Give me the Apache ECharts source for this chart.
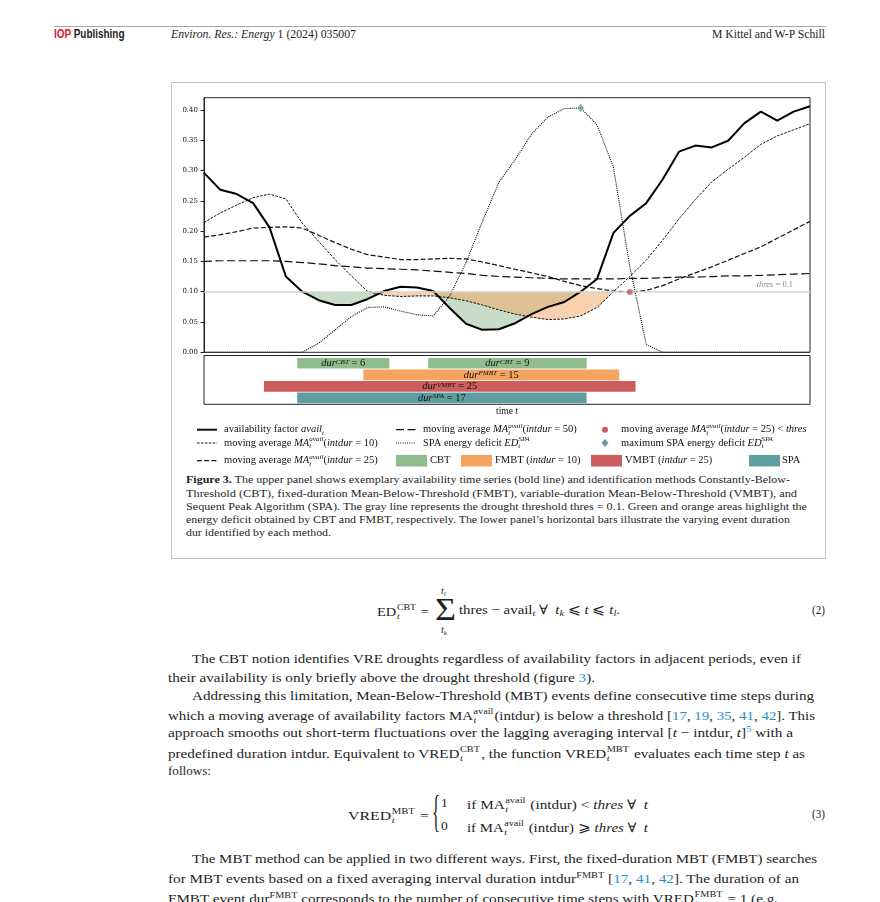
<!DOCTYPE html>
<html><head><meta charset="utf-8">
<script src="https://cdn.jsdelivr.net/npm/echarts@6/dist/echarts.min.js"></script>
<style>
html,body{margin:0;padding:0;background:#fff;}
body{width:880px;height:902px;position:relative;overflow:hidden;font-family:'Liberation Serif','DejaVu Serif',serif;color:#1e1e1e;}
.ln{position:absolute;left:0;top:0;white-space:nowrap;transform-origin:0 50%;line-height:1em;height:1em;font-size:13.5px;}
.cap{font-size:10.5px;}
.hdr{font-family:'Liberation Sans Narrow','Liberation Sans',sans-serif;font-weight:bold;font-size:12px;}
.hd2{font-size:12.5px;}
sub,sup{font-size:0.68em;line-height:0;}
sup{vertical-align:0.5em;} sub{vertical-align:-0.25em;}
.lk{color:#2b8fc4;}
.ss{display:inline-flex;flex-direction:column;font-size:0.68em;line-height:1;vertical-align:0.62em;margin-left:0.5px;margin-right:1px;}
.ss span{display:block;}
#rule{position:absolute;left:54px;top:26px;width:772px;height:1px;background:#a8a8a8;}
#frame{position:absolute;left:171px;top:82px;width:653px;height:475px;border:1px solid #c4c4c4;}
#chart{position:absolute;left:171px;top:82px;width:654px;height:392px;}
</style></head>
<body>
<div id="rule"></div>
<div class="ln hdr" data-x="54" data-e="124.5" data-y="35"><span style="color:#d2232f">IOP</span> Publishing</div>
<div class="ln hd2" data-x="171" data-e="356" data-y="35"><i>Environ. Res.: Energy</i> 1 (2024) 035007</div>
<div class="ln hd2" data-x="712" data-e="825" data-y="35">M Kittel and W-P Schill</div>

<div id="frame"></div>
<div id="chart"></div>

<div class="ln cap" data-x="186" data-e="790" data-y="481"><b>Figure 3.</b> The upper panel shows exemplary availability time series (bold line) and identification methods Constantly-Below-</div>
<div class="ln cap" data-x="186" data-e="797" data-y="494.5">Threshold (CBT), fixed-duration Mean-Below-Threshold (FMBT), variable-duration Mean-Below-Threshold (VMBT), and</div>
<div class="ln cap" data-x="186" data-e="807" data-y="507.7">Sequent Peak Algorithm (SPA). The gray line represents the drought threshold thres = 0.1. Green and orange areas highlight the</div>
<div class="ln cap" data-x="186" data-e="790" data-y="521">energy deficit obtained by CBT and FMBT, respectively. The lower panel’s horizontal bars illustrate the varying event duration</div>
<div class="ln cap" data-x="186" data-e="331" data-y="534">dur identified by each method.</div>

<div class="ln" data-x="377" data-e="429" data-y="611">ED<span class="ss"><span>CBT</span><span><i>t</i></span></span> =</div>
<div class="ln" data-x="435" data-e="456" data-y="611" style="font-size:32px">Σ</div>
<div class="ln" data-x="441" data-y="592" style="font-size:10px"><i>t<sub>l</sub></i></div>
<div class="ln" data-x="441" data-y="631" style="font-size:10px"><i>t<sub>k</sub></i></div>
<div class="ln" data-x="459" data-e="620" data-y="611">thres − avail<sub><i>t</i></sub> ∀ &nbsp;<i>t<sub>k</sub></i> ⩽ <i>t</i> ⩽ <i>t<sub>l</sub></i>.</div>
<div class="ln" data-x="812" data-e="825" data-y="611">(2)</div>

<div class="ln" data-x="192" data-e="801" data-y="659.3">The CBT notion identifies VRE droughts regardless of availability factors in adjacent periods, even if</div>
<div class="ln" data-x="168" data-e="595" data-y="678.3">their availability is only briefly above the drought threshold (figure <span class="lk">3</span>).</div>
<div class="ln" data-x="192" data-e="814" data-y="696.7">Addressing this limitation, Mean-Below-Threshold (MBT) events define consecutive time steps during</div>
<div class="ln" data-x="168" data-e="815" data-y="715">which a moving average of availability factors MA<span class="ss"><span>avail</span><span><i>t</i></span></span>(intdur) is below a threshold [<span class="lk">17</span>, <span class="lk">19</span>, <span class="lk">35</span>, <span class="lk">41</span>, <span class="lk">42</span>]. This</div>
<div class="ln" data-x="168" data-e="793" data-y="734">approach smooths out short-term fluctuations over the lagging averaging interval [<i>t</i> − intdur, <i>t</i>]<sup class="lk">5</sup> with a</div>
<div class="ln" data-x="168" data-e="805" data-y="752.3">predefined duration intdur. Equivalent to VRED<span class="ss"><span>CBT</span><span><i>t</i></span></span>, the function VRED<span class="ss"><span>MBT</span><span><i>t</i></span></span> evaluates each time step <i>t</i> as</div>
<div class="ln" data-x="168" data-e="211" data-y="771.7">follows:</div>

<div class="ln" data-x="348" data-e="429" data-y="815">VRED<span class="ss"><span>MBT</span><span><i>t</i></span></span> =</div>
<div class="ln" data-x="432" data-e="440" data-y="815" style="font-size:44px">{</div>
<div class="ln" data-x="441" data-y="804">1</div>
<div class="ln" data-x="441" data-y="826.7">0</div>
<div class="ln" data-x="467" data-e="648" data-y="804">if MA<span class="ss"><span>avail</span><span><i>t</i></span></span> (intdur) &lt; <i>thres</i> ∀ &nbsp;<i>t</i></div>
<div class="ln" data-x="467" data-e="648" data-y="826.7">if MA<span class="ss"><span>avail</span><span><i>t</i></span></span> (intdur) ⩾ <i>thres</i> ∀ &nbsp;<i>t</i></div>
<div class="ln" data-x="812" data-e="825" data-y="815">(3)</div>

<div class="ln" data-x="192" data-e="817" data-y="860">The MBT method can be applied in two different ways. First, the fixed-duration MBT (FMBT) searches</div>
<div class="ln" data-x="168" data-e="799" data-y="880">for MBT events based on a fixed averaging interval duration intdur<sup>FMBT</sup> [<span class="lk">17</span>, <span class="lk">41</span>, <span class="lk">42</span>]. The duration of an</div>
<div class="ln" data-x="168" data-e="778" data-y="897.5">FMBT event dur<sup>FMBT</sup> corresponds to the number of consecutive time steps with VRED<span class="ss"><span>FMBT</span><span><i>t</i></span></span> = 1 (e.g.</div>

<script>
// ---------------- data ----------------
const timeSteps = [0,1,2,3,4,5,6,7,8,9,10,11,12,13,14,15,16,17,18,19,20,21,22,23,24,25,26,27,28,29,30,31,32,33,34,35,36,37];
const avail = [0.296,0.268,0.261,0.246,0.206,0.125,0.100,0.086,0.078,0.078,0.088,0.101,0.108,0.107,0.101,0.073,0.047,0.037,0.038,0.048,0.063,0.075,0.083,0.100,0.121,0.197,0.225,0.246,0.285,0.331,0.341,0.338,0.349,0.378,0.397,0.382,0.397,0.406];
const ma10 = [0.214,0.230,0.243,0.255,0.261,0.253,0.213,0.183,0.153,0.126,0.100,0.094,0.092,0.093,0.093,0.090,0.085,0.078,0.070,0.063,0.058,0.054,0.055,0.060,0.074,0.100,0.125,0.152,0.185,0.220,0.252,0.281,0.302,0.322,0.343,0.357,0.367,0.377];
const ma25 = [0.190,0.194,0.199,0.205,0.206,0.207,0.205,0.193,0.181,0.170,0.161,0.157,0.153,0.153,0.154,0.155,0.154,0.149,0.143,0.137,0.131,0.125,0.117,0.110,0.105,0.101,0.0995,0.102,0.110,0.121,0.131,0.141,0.152,0.163,0.174,0.188,0.202,0.216];
const ma50 = [0.150,0.151,0.151,0.151,0.151,0.150,0.148,0.146,0.143,0.141,0.139,0.138,0.137,0.136,0.134,0.132,0.130,0.127,0.125,0.124,0.123,0.122,0.121,0.121,0.121,0.121,0.122,0.122,0.123,0.124,0.124,0.125,0.126,0.126,0.127,0.128,0.129,0.130];
const spaDeficit = [0,0,0,0,0,0,0,0.015,0.037,0.059,0.074,0.075,0.068,0.062,0.060,0.093,0.148,0.216,0.280,0.318,0.360,0.388,0.402,0.403,0.375,0.305,0.141,0.013,0,0,0,0,0,0,0,0,0,0];
const thres = 0.1;
const yTicks = [0, 0.05, 0.10, 0.15, 0.20, 0.25, 0.30, 0.35, 0.40];
const methods = ['CBT', 'FMBT', 'VMBT', 'SPA'];
const eventMethod = ['CBT', 'CBT', 'FMBT', 'VMBT', 'SPA'];
const eventStart = [5.69, 13.69, 9.73, 3.66, 5.69];
const eventEnd = [11.32, 23.36, 25.35, 26.35, 23.36];
const eventDur = [6, 9, 15, 25, 17];

// ---------------- page text fitting ----------------
document.querySelectorAll('.ln').forEach(el => {
  const fs = parseFloat(getComputedStyle(el).fontSize);
  const nat = el.getBoundingClientRect().width;
  const x = +el.dataset.x;
  const w = el.dataset.e ? (+el.dataset.e - x) : nat;
  el.style.left = x + 'px';
  el.style.top = (+el.dataset.y - fs * 0.57) + 'px';
  el.style.transform = 'scaleX(' + (w / nat) + ')';
});

// ---------------- chart ----------------
const SERIF = "'Liberation Serif','DejaVu Serif',serif";
const methodColor = {CBT: '#8fbc8f', FMBT: '#f4a460', VMBT: '#cd5c5c', SPA: '#5f9ea0'};
function zr(fs, color, lh, slh, sblh) {
  const b = {fontFamily: SERIF, fill: color, fontSize: fs, lineHeight: lh};
  const s = {fontFamily: SERIF, fill: color, fontSize: fs * 0.68, fontStyle: 'italic'};
  return {
    n: Object.assign({}, b),
    i: Object.assign({}, b, {fontStyle: 'italic'}),
    sup: Object.assign({}, s, {lineHeight: slh, verticalAlign: 'top'}),
    sub: Object.assign({}, s, {lineHeight: sblh, verticalAlign: 'bottom'}),
    subz: Object.assign({}, s, {lineHeight: sblh, verticalAlign: 'bottom', width: 0.01})
  };
}
const LR = zr(10.5, '#111', 14, 6, 8);
function ltext(x, y, t) {
  return {type: 'text', x: x, y: y, style: {text: t, rich: LR, fill: '#111', fontFamily: SERIF, fontSize: 10.5, align: 'left', verticalAlign: 'middle'}};
}
function lline(x, y, dash, w) {
  return {type: 'line', shape: {x1: x, y1: y, x2: x + 20, y2: y}, style: {stroke: '#111', lineWidth: w, lineDash: dash}};
}
function lrect(x, y, c) {
  return {type: 'rect', shape: {x: x, y: y - 5.8, width: 31, height: 11.6}, style: {fill: c}};
}
const MA = (d) => '{n|moving average }{i|MA}{subz|t}{sup|avail}{n|(}{i|intdur}{n| = ' + d + ')}';
const r1 = 347.7, r2 = 361, r3 = 378.7;
const graphics = [
  lline(26, r1, null, 2), ltext(53, r1, '{n|availability factor }{i|avail}{sub|t}'),
  lline(225, r1, [8, 3.5], 1.2), ltext(252, r1, MA(50)),
  {type: 'circle', shape: {cx: 434, cy: r1, r: 3}, style: {fill: '#cd5c5c'}},
  ltext(450, r1, MA(25) + '{n| < }{i|thres}'),
  lline(26, r2, [2.6, 1.3], 1), ltext(53, r2, MA(10)),
  lline(225, r2, [1, 1.2], 1.1), ltext(252, r2, '{n|SPA energy deficit }{i|ED}{subz|t}{sup|SPA}'),
  {type: 'polygon', shape: {points: [[434, r2 - 4], [437.5, r2], [434, r2 + 4], [430.5, r2]]}, style: {fill: '#5f9ea0'}},
  ltext(450, r2, '{n|maximum SPA energy deficit }{i|ED}{subz|t}{sup|SPA}'),
  lline(26, r3, [5, 2.2], 1.2), ltext(53, r3, MA(25)),
  lrect(225, r3, methodColor.CBT), ltext(259, r3, '{n|CBT}'),
  lrect(290, r3, methodColor.FMBT), ltext(324, r3, '{n|FMBT (}{i|intdur}{n| = 10)}'),
  lrect(420, r3, methodColor.VMBT), ltext(454, r3, '{n|VMBT (}{i|intdur}{n| = 25)}'),
  lrect(578, r3, methodColor.SPA), ltext(611, r3, '{n|SPA}')
];

const clipAvail = avail.map(v => Math.min(v, thres));
const gapAvail = clipAvail.map(v => thres - v);
const clipMa10 = ma10.map(v => Math.min(v, thres));
const gapMa10 = clipMa10.map(v => thres - v);
const belowPts = ma25.map((v, i) => v < thres ? [i, v] : null).filter(Boolean);
const spaMax = Math.max.apply(null, spaDeficit);
const spaMaxIdx = spaDeficit.indexOf(spaMax);

const BR = zr(10.5, '#111', 10, 3, 6);
function barSeries(m, row) {
  const data = eventMethod.map((mm, i) => mm === m ? [eventStart[i], eventEnd[i], row, eventDur[i]] : null).filter(Boolean);
  return {
    type: 'custom', name: m, xAxisIndex: 1, yAxisIndex: 1, data: data, silent: true,
    renderItem: function (params, api) {
      const s = api.coord([api.value(0), api.value(2)]);
      const e = api.coord([api.value(1), api.value(2)]);
      const h = api.size([0, 0.92])[1];
      return {
        type: 'rect',
        shape: {x: s[0], y: s[1] - h / 2, width: e[0] - s[0], height: h},
        style: {fill: methodColor[m]},
        textContent: {style: {text: '{i|dur}{sup|' + m + '}{n| = ' + api.value(3) + '}', rich: BR, fill: '#111', fontFamily: SERIF, fontSize: 10.5}},
        textConfig: {position: 'inside'}
      };
    }
  };
}
const hidden = {show: false};
const lineBase = {type: 'line', symbol: 'none', silent: true, emphasis: {disabled: true}};
const option = {
  animation: false,
  grid: [
    {left: 33, top: 15.7, width: 606, height: 254.6, show: true, borderColor: '#222', borderWidth: 1, backgroundColor: 'transparent'},
    {left: 33, top: 273.5, width: 606, height: 48.8, show: true, borderColor: '#222', borderWidth: 1, backgroundColor: 'transparent'}
  ],
  xAxis: [
    {type: 'category', gridIndex: 0, data: timeSteps, boundaryGap: false, axisLine: hidden, axisTick: hidden, axisLabel: hidden, splitLine: hidden},
    {type: 'value', gridIndex: 1, min: 0, max: 37, axisLine: hidden, axisTick: hidden, axisLabel: hidden, splitLine: hidden,
      name: '{n|time }{i|t}', nameLocation: 'middle', nameGap: 2,
      nameTextStyle: {rich: {n: {color: '#111', fontFamily: SERIF, fontSize: 9.5}, i: {color: '#111', fontFamily: SERIF, fontSize: 9.5, fontStyle: 'italic'}}}}
  ],
  yAxis: [
    {type: 'value', gridIndex: 0, min: 0, max: 0.42, interval: 0.05,
      axisLine: {show: true, lineStyle: {color: '#222', width: 1}},
      axisTick: {show: true, length: 3.5, lineStyle: {color: '#222'}, customValues: yTicks},
      axisLabel: {show: true, customValues: yTicks, margin: 6, formatter: v => v.toFixed(2), color: '#111', fontFamily: "'DejaVu Serif',serif", fontSize: 7},
      splitLine: hidden},
    {type: 'value', gridIndex: 1, min: -0.67, max: 3.55, inverse: true, axisLine: hidden, axisTick: hidden, axisLabel: hidden, splitLine: hidden}
  ],
  graphic: graphics,
  series: [
    Object.assign({}, lineBase, {name: 'cbtBase', data: clipAvail, stack: 'cbt', lineStyle: {opacity: 0}, z: 1,
      markLine: {silent: true, symbol: 'none', data: [{yAxis: thres}], lineStyle: {color: '#d4d4d4', width: 1.5, type: 'solid'},
        label: {show: true, position: 'insideEndTop', distance: [17, 2], formatter: '{i|thres}{n| = 0.1}',
          rich: {i: {color: '#8a8a8a', fontFamily: SERIF, fontSize: 8.5, fontStyle: 'italic'}, n: {color: '#8a8a8a', fontFamily: SERIF, fontSize: 8.5}}}}}),
    Object.assign({}, lineBase, {name: 'CBT deficit', data: gapAvail, stack: 'cbt', lineStyle: {opacity: 0}, areaStyle: {color: '#8fbc8f', opacity: 0.5}, z: 1}),
    Object.assign({}, lineBase, {name: 'fmbtBase', data: clipMa10, stack: 'fmbt', lineStyle: {opacity: 0}, z: 1}),
    Object.assign({}, lineBase, {name: 'FMBT deficit', data: gapMa10, stack: 'fmbt', lineStyle: {opacity: 0}, areaStyle: {color: '#f4a460', opacity: 0.5}, z: 1}),
    Object.assign({}, lineBase, {name: 'SPA energy deficit', data: spaDeficit, lineStyle: {color: '#000', width: 1.1, type: [1, 1.1]}, z: 3}),
    Object.assign({}, lineBase, {name: 'MA50', data: ma50, lineStyle: {color: '#111', width: 1.2, type: [8, 3.5]}, z: 3}),
    Object.assign({}, lineBase, {name: 'MA25', data: ma25, lineStyle: {color: '#111', width: 1.2, type: [5, 2.2]}, z: 3}),
    Object.assign({}, lineBase, {name: 'MA10', data: ma10, lineStyle: {color: '#111', width: 1, type: [2.6, 1.3]}, z: 3}),
    Object.assign({}, lineBase, {name: 'avail', data: avail, lineStyle: {color: '#000', width: 2, join: 'round'}, z: 4}),
    {type: 'scatter', name: 'MA25 < thres', data: belowPts, symbol: 'circle', symbolSize: 6, itemStyle: {color: '#cd5c5c'}, z: 6, silent: true},
    {type: 'scatter', name: 'max SPA', data: [[spaMaxIdx, spaMax]], symbol: 'diamond', symbolSize: [7, 8], itemStyle: {color: '#5f9ea0'}, z: 6, silent: true},
    barSeries('CBT', 0), barSeries('FMBT', 1), barSeries('VMBT', 2), barSeries('SPA', 3)
  ]
};
const chart = echarts.init(document.getElementById('chart'), null, {renderer: 'canvas'});
chart.setOption(option);
</script>
</body></html>
